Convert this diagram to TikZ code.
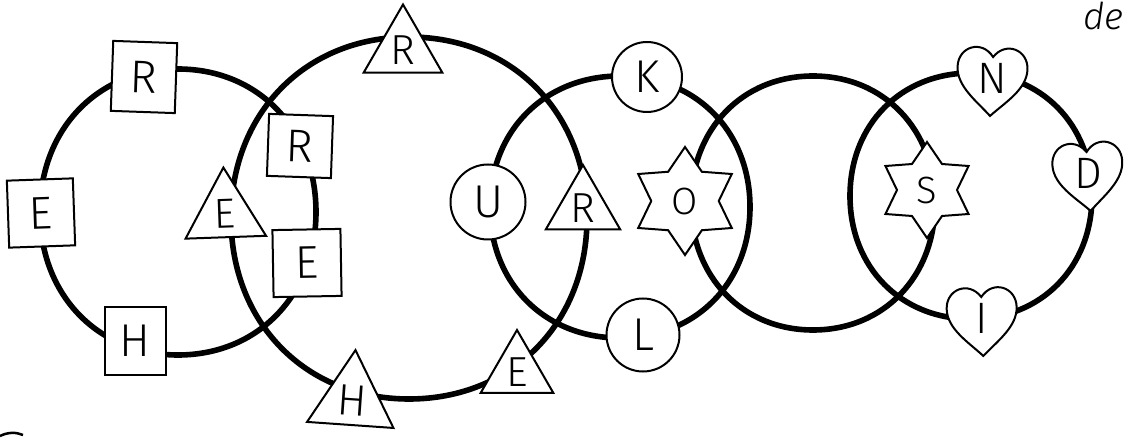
\documentclass[tikz,border=0pt]{standalone}
\usepackage{fontspec}
\setmainfont{Liberation Sans}
\newfontfamily\hand{Fira Sans}[UprightFont={* Light},ItalicFont={* Light Italic}]
\usetikzlibrary{shapes.geometric}
\newcommand\myring[4]{%
  \draw[ringline] ({#1+#3},{#2}) .. controls ({#1+#3},{#2+0.58*#4}) and ({#1+0.58*#3},{#2+#4}) .. ({#1},{#2+#4})
    .. controls ({#1-0.58*#3},{#2+#4}) and ({#1-#3},{#2+0.58*#4}) .. ({#1-#3},{#2})
    .. controls ({#1-#3},{#2-0.58*#4}) and ({#1-0.58*#3},{#2-#4}) .. ({#1},{#2-#4})
    .. controls ({#1+0.58*#3},{#2-#4}) and ({#1+#3},{#2-0.58*#4}) .. ({#1+#3},{#2}) -- cycle;}
\newcommand\myheart[5]{% name, x, y, rotation, letter
  \begin{scope}[shift={(#2,#3)},rotate=#4]
    \draw[heartline] (0,38) .. controls (-14,24) and (-35,10) .. (-35,-10)
      .. controls (-35,-30) and (-12,-38) .. (0,-21)
      .. controls (12,-38) and (35,-30) .. (35,-10)
      .. controls (35,10) and (14,24) .. (0,38) -- cycle;
  \end{scope}
  \node[lett] (#1) at (#2,#3) {#5};}
\begin{document}
\begin{tikzpicture}[x=1pt,y=-1pt,
  ringline/.style={line width=5.6pt},
  outl/.style={draw, line width=2pt, fill=white, inner sep=0pt, outer sep=0pt},
  lett/.style={inner sep=0pt, font=\hand\fontsize{44}{44}\selectfont},
  sq/.style={outl, rectangle, minimum width=64pt, minimum height=67pt, font=\hand\fontsize{46}{46}\selectfont},
  tri/.style={outl, regular polygon, regular polygon sides=3, minimum size=90pt, font=\hand\fontsize{42}{42}\selectfont},
  circ/.style={outl, circle, minimum size=72pt, font=\hand\fontsize{46}{46}\selectfont},
  st/.style={outl, star, star points=6, star point ratio=1.6, minimum size=100pt, font=\hand\fontsize{38}{38}\selectfont},
  heartline/.style={draw, line width=2pt, fill=white}
]
\useasboundingbox (0,0) rectangle (1128,438);
% rings
\myring{178}{212}{138}{143}
\myring{409}{218}{178}{181}
\myring{620}{207}{130}{131}
\myring{813}{203}{122}{127}
\myring{971}{196}{121}{123}
% squares
\node[sq, minimum height=70pt, rotate=-2] (sR1) at (144,77) {R};
\node[sq, minimum width=66pt, rotate=2] (sE1) at (41,213) {E};
\node[sq, minimum width=61pt, minimum height=68pt] (sH) at (135,341) {H};
\node[sq, minimum height=62pt, rotate=-2] (sR2) at (300,146) {R};
\node[sq, minimum width=68pt, rotate=1] (sE2) at (307,263) {E};
% triangles
\node[tri, minimum size=91pt] (tR1) at (403,50) {R};
\node[tri, minimum size=93pt, rotate=2] (tE1) at (225,214) {E};
\node[tri, minimum size=100pt, rotate=-4, font=\hand\fontsize{44}{44}\selectfont] (tH) at (352,400) {H};
\node[tri, minimum size=84pt] (tE2) at (517,372) {E};
\node[tri, minimum size=86pt] (tR2) at (583,208) {R};
% circles
\node[circ, minimum size=70pt] (cK) at (647,77) {K};
\node[circ, minimum size=75pt] (cU) at (488,202) {U};
\node[circ, minimum size=73pt] (cL) at (643,335) {L};
% stars
\node[st, minimum size=108pt] (stO) at (685,201) {O};
\node[st, minimum size=96pt] (stS) at (927,190) {S};
% hearts
\myheart{hN}{992}{78}{-3}{N}
\myheart{hD}{1088}{173}{4}{D}
\myheart{hI}{982}{318}{2}{I}
% text
\node[anchor=base east, inner sep=0pt, font=\hand\itshape\fontsize{37}{37}\selectfont] (de) at (1124,30) {de};
% edge mark
\draw[line width=2.5pt] (0,436) .. controls (8,432) and (16,432) .. (23,435);
\end{tikzpicture}
\end{document}
